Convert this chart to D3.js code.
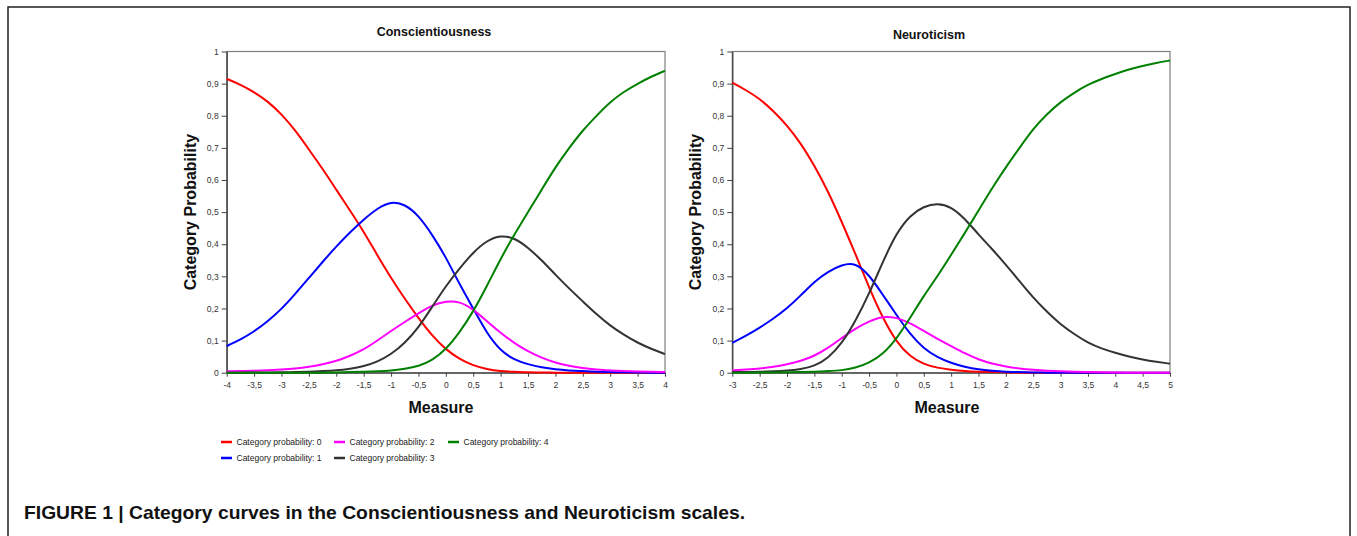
<!DOCTYPE html>
<html>
<head>
<meta charset="utf-8">
<script src="https://cdn.jsdelivr.net/npm/d3@7"></script>
<style>
  body { margin: 0; background: #fff; }
  svg { display: block; font-family: Arial, "Liberation Sans", sans-serif; }
</style>
</head>
<body>
<script>
// category labels + colours
let categories = ["Category probability: 0", "Category probability: 1", "Category probability: 2",
                  "Category probability: 3", "Category probability: 4"];
let colors = ["#ff0000", "#0000ff", "#ff00ff", "#333333", "#008000"];

// Conscientiousness, measure -4 .. 4 (step 0.25)
let consX = d3.range(-4, 4.001, 0.25);
let consCat0 = [0.915, 0.897, 0.874, 0.845, 0.805, 0.755, 0.695, 0.635, 0.570, 0.505, 0.440, 0.365, 0.295,
                0.230, 0.170, 0.115, 0.072, 0.042, 0.022, 0.011, 0.005, 0.003, 0.001, 0.001, 0, 0, 0, 0, 0, 0, 0, 0, 0];
let consCat1 = [0.083, 0.103, 0.128, 0.160, 0.198, 0.245, 0.295, 0.345, 0.393, 0.437, 0.477, 0.512, 0.533,
                0.525, 0.490, 0.430, 0.360, 0.275, 0.200, 0.122, 0.068, 0.040, 0.026, 0.016, 0.010, 0.007,
                0.005, 0.003, 0.002, 0.001, 0.001, 0, 0];
let consCat2 = [0.004, 0.005, 0.006, 0.008, 0.010, 0.013, 0.018, 0.026, 0.036, 0.052, 0.072, 0.100, 0.130,
                0.158, 0.185, 0.210, 0.223, 0.222, 0.198, 0.160, 0.124, 0.092, 0.066, 0.046, 0.031, 0.021,
                0.014, 0.010, 0.007, 0.005, 0.004, 0.003, 0.002];
let consCat3 = [0, 0, 0.001, 0.001, 0.001, 0.002, 0.003, 0.005, 0.007, 0.012, 0.020, 0.034, 0.057,
                0.092, 0.140, 0.205, 0.270, 0.325, 0.375, 0.412, 0.428, 0.420, 0.390, 0.350, 0.305, 0.262,
                0.222, 0.182, 0.146, 0.118, 0.093, 0.074, 0.058];
let consCat4 = [0, 0, 0, 0, 0, 0, 0, 0, 0.001, 0.002, 0.003, 0.004, 0.006,
                0.012, 0.020, 0.038, 0.072, 0.125, 0.190, 0.270, 0.355, 0.430, 0.500, 0.570, 0.640, 0.700,
                0.755, 0.800, 0.843, 0.875, 0.900, 0.922, 0.940];

// Neuroticism, measure -3 .. 5 (step 0.25)
let neuroX = d3.range(-3, 5.001, 0.25);
let neuroCat0 = [0.903, 0.880, 0.853, 0.815, 0.770, 0.715, 0.645, 0.565, 0.470, 0.370, 0.265, 0.170, 0.095,
                 0.050, 0.026, 0.015, 0.009, 0.005, 0.003, 0.002, 0.001, 0, 0, 0, 0, 0, 0, 0, 0, 0, 0, 0, 0];
let neuroCat1 = [0.093, 0.115, 0.140, 0.168, 0.200, 0.240, 0.284, 0.315, 0.336, 0.343, 0.305, 0.243, 0.180,
                 0.120, 0.075, 0.048, 0.030, 0.018, 0.010, 0.006, 0.003, 0.002, 0.001, 0, 0, 0, 0, 0, 0, 0, 0, 0, 0];
let neuroCat2 = [0.007, 0.010, 0.013, 0.018, 0.026, 0.036, 0.052, 0.077, 0.108, 0.138, 0.160, 0.176, 0.172,
                 0.155, 0.130, 0.105, 0.083, 0.060, 0.041, 0.028, 0.019, 0.013, 0.009, 0.006, 0.004, 0.003,
                 0.002, 0.001, 0.001, 0, 0, 0, 0];
let neuroCat3 = [0.002, 0.002, 0.003, 0.004, 0.006, 0.011, 0.020, 0.045, 0.090, 0.160, 0.245, 0.345, 0.435,
                 0.490, 0.518, 0.528, 0.517, 0.480, 0.430, 0.385, 0.336, 0.285, 0.233, 0.190, 0.150, 0.120,
                 0.093, 0.075, 0.062, 0.050, 0.041, 0.034, 0.028];
let neuroCat4 = [0, 0, 0.001, 0.001, 0.001, 0.002, 0.003, 0.005, 0.007, 0.015, 0.030, 0.057, 0.105,
                 0.170, 0.240, 0.300, 0.367, 0.435, 0.505, 0.575, 0.640, 0.700, 0.760, 0.805, 0.843, 0.872,
                 0.897, 0.915, 0.930, 0.945, 0.955, 0.965, 0.972];

let yTicks = d3.range(0, 1.001, 0.1);

let svg = d3.select("body").append("svg")
    .attr("width", 1357).attr("height", 536);

// figure frame
svg.append("rect")
    .attr("x", 8).attr("y", 7).attr("width", 1342).attr("height", 560)
    .attr("fill", "none").attr("stroke", "#222").attr("stroke-width", 1.5);

let comma = function (d) { return String(+d.toFixed(2)).replace(".", ","); };

function drawChart(o) {
    let xScale = d3.scaleLinear().domain(o.domain).range([o.x0, o.x1]);
    let yScale = d3.scaleLinear().domain([0, 1]).range([o.y1, o.y0]);
    let g = svg.append("g");

    // plot frame (top / right)
    g.append("rect")
        .attr("x", o.x0).attr("y", o.y0)
        .attr("width", o.x1 - o.x0).attr("height", o.y1 - o.y0)
        .attr("fill", "none").attr("stroke", "#7f7f7f").attr("stroke-width", 1.2);

    let xAxis = g.append("g")
        .attr("transform", "translate(0," + o.y1 + ")")
        .call(d3.axisBottom(xScale).tickValues(d3.range(o.domain[0], o.domain[1] + 0.001, 0.5))
            .tickFormat(comma).tickSize(4).tickPadding(5).tickSizeOuter(0));
    let yAxis = g.append("g")
        .attr("transform", "translate(" + o.x0 + ",0)")
        .call(d3.axisLeft(yScale).tickValues(yTicks).tickFormat(comma)
            .tickSize(5).tickPadding(3).tickSizeOuter(0));

    [xAxis, yAxis].forEach(function (a) {
        a.selectAll("path").attr("stroke", "#404040").attr("stroke-width", 1.3);
        a.selectAll("line").attr("stroke", "#404040").attr("stroke-width", 1);
        a.selectAll("text").attr("fill", "#333").attr("font-size", "8.5px")
            .attr("font-family", "Arial, 'Liberation Sans', sans-serif");
    });

    let line = d3.line()
        .x(function (d) { return xScale(d[0]); })
        .y(function (d) { return yScale(d[1]); })
        .curve(d3.curveBasis);

    o.series.forEach(function (vals, i) {
        g.append("path")
            .datum(o.xs.map(function (x, j) { return [x, vals[j]]; }))
            .attr("d", line)
            .attr("fill", "none")
            .attr("stroke", colors[i])
            .attr("stroke-width", 2);
    });

    g.append("text")
        .attr("x", o.titleX).attr("y", o.titleY)
        .attr("text-anchor", "middle")
        .attr("font-size", "12.5px").attr("font-weight", "bold").attr("fill", "#111")
        .text(o.title);

    g.append("text")
        .attr("x", o.measureX).attr("y", 413)
        .attr("text-anchor", "middle")
        .attr("font-size", "16px").attr("font-weight", "bold").attr("fill", "#111")
        .text("Measure");

    g.append("text")
        .attr("transform", "translate(" + (o.x0 - 31) + "," + ((o.y0 + o.y1) / 2) + ") rotate(-90)")
        .attr("text-anchor", "middle")
        .attr("font-size", "16px").attr("font-weight", "bold").attr("fill", "#111")
        .text("Category Probability");
}

drawChart({
    x0: 226.7, x1: 665, y0: 51.5, y1: 372.7,
    domain: [-4, 4], xs: consX,
    series: [consCat0, consCat1, consCat2, consCat3, consCat4],
    title: "Conscientiousness", titleX: 434, titleY: 35.5, measureX: 441
});

drawChart({
    x0: 732.3, x1: 1170, y0: 51.5, y1: 372.7,
    domain: [-3, 5], xs: neuroX,
    series: [neuroCat0, neuroCat1, neuroCat2, neuroCat3, neuroCat4],
    title: "Neuroticism", titleX: 929, titleY: 39, measureX: 947
});

// legend (3 columns, 2 rows)
let legendPos = [[221, 442], [221, 458], [334, 442], [334, 458], [448, 442]];
let legend = svg.append("g").selectAll("g")
    .data(categories).enter()
    .append("g")
    .attr("transform", function (d, i) { return "translate(" + legendPos[i][0] + "," + legendPos[i][1] + ")"; });
legend.append("line")
    .attr("x1", 0).attr("x2", 11).attr("y1", 0).attr("y2", 0)
    .attr("stroke", function (d, i) { return colors[i]; })
    .attr("stroke-width", 2.5);
legend.append("text")
    .attr("x", 15.5).attr("y", 3)
    .attr("font-size", "8.5px").attr("fill", "#222")
    .text(function (d) { return d; });

// caption
svg.append("text")
    .attr("x", 24).attr("y", 519)
    .attr("font-size", "19px").attr("font-weight", "bold").attr("fill", "#111")
    .attr("textLength", 721).attr("lengthAdjust", "spacingAndGlyphs")
    .text("FIGURE 1 | Category curves in the Conscientiousness and Neuroticism scales.");
</script>
</body>
</html>
